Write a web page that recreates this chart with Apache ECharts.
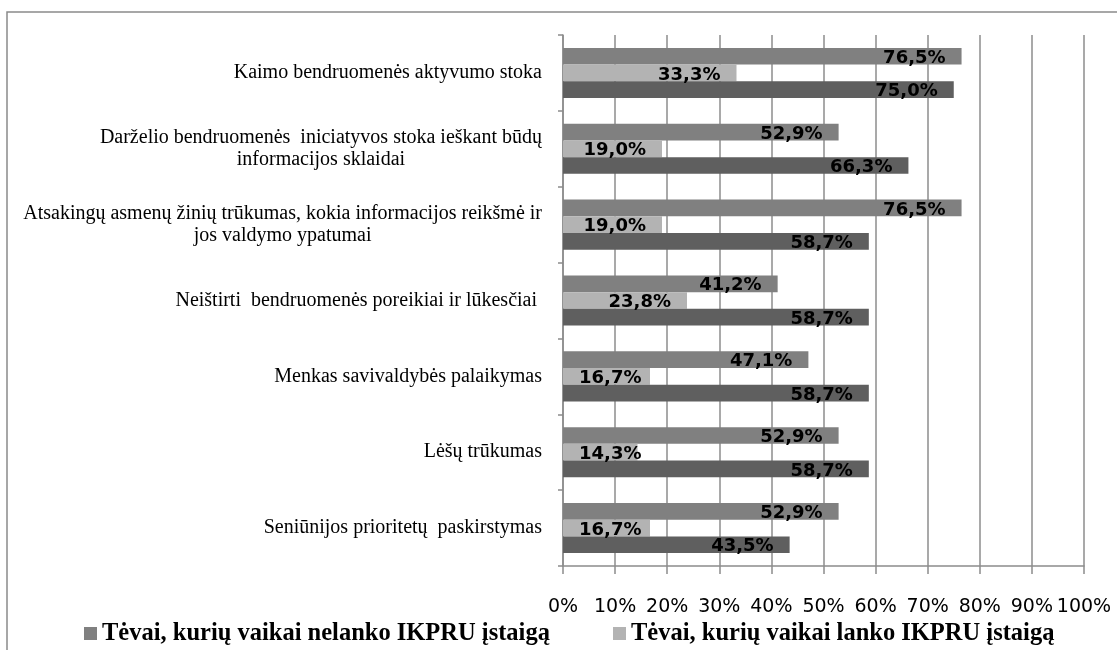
<!DOCTYPE html>
<html>
<head>
<meta charset="utf-8">
<script src="https://cdn.jsdelivr.net/npm/echarts@6/dist/echarts.min.js"></script>
<style>
  html, body { margin: 0; padding: 0; background: #fff; }
  #main { width: 1117px; height: 650px; }
</style>
</head>
<body>
<div id="main"></div>
<script>
  // kategorijos (iš viršaus į apačią)
  var categories = [
    'Kaimo bendruomenės aktyvumo stoka',
    'Darželio bendruomenės  iniciatyvos stoka ieškant būdų\ninformacijos sklaidai',
    'Atsakingų asmenų žinių trūkumas, kokia informacijos reikšmė ir\njos valdymo ypatumai',
    'Neištirti  bendruomenės poreikiai ir lūkesčiai ',
    'Menkas savivaldybės palaikymas',
    'Lėšų trūkumas',
    'Seniūnijos prioritetų  paskirstymas'
  ];
  var seriesNames = [
    'Tėvai, kurių vaikai nelanko IKPRU įstaigą',
    'Tėvai, kurių vaikai lanko IKPRU įstaigą',
    'Serija 3'
  ];
  var nelanko = [76.5, 52.9, 76.5, 41.2, 47.1, 52.9, 52.9];
  var lanko = [33.3, 19.0, 19.0, 23.8, 16.7, 14.3, 16.7];
  var trecia = [75.0, 66.3, 58.7, 58.7, 58.7, 58.7, 43.5];
  var xTicks = [0, 10, 20, 30, 40, 50, 60, 70, 80, 90, 100];

  var colors = ['#808080', '#b3b3b3', '#5f5f5f'];
  var SMALL = 18; // per trumpi stulpeliai - etiketė prie ašies

  function makeData(arr) {
    return arr.map(function (v) {
      if (v < SMALL) {
        return { value: v, label: { position: 'insideLeft', distance: 16 } };
      }
      return { value: v };
    });
  }

  function makeSeries(name, arr, color) {
    return {
      name: name,
      type: 'bar',
      barGap: 0,
      barCategoryGap: '34%',
      itemStyle: { color: color },
      label: {
        show: true,
        position: 'insideRight',
        distance: 16,
        offset: [0, 2],
        color: '#000',
        fontFamily: 'DejaVu Sans',
        fontWeight: 'bold',
        fontSize: 18,
        formatter: function (p) {
          return p.value.toFixed(1).replace('.', ',') + '%';
        }
      },
      data: makeData(arr)
    };
  }

  var chart = echarts.init(document.getElementById('main'));
  chart.setOption({
    animation: false,
    backgroundColor: '#fff',
    graphic: [{
      type: 'rect',
      z: -10,
      shape: { x: 7, y: 12, width: 1300, height: 800 },
      style: { fill: 'none', stroke: '#8a8a8a', lineWidth: 1.5 }
    }],
    grid: { left: 563, right: 33, top: 35, bottom: 84 },
    legend: [{
      left: 79,
      top: 616,
      icon: 'rect',
      itemWidth: 13,
      itemHeight: 13,
      itemGap: 5,
      textStyle: { fontFamily: 'Liberation Serif', fontWeight: 'bold', fontSize: 24.5, color: '#000' },
      data: [seriesNames[0]]
    }, {
      left: 608,
      top: 616,
      icon: 'rect',
      itemWidth: 13,
      itemHeight: 13,
      textStyle: { fontFamily: 'Liberation Serif', fontWeight: 'bold', fontSize: 24.5, color: '#000' },
      data: [seriesNames[1]]
    }],
    xAxis: {
      type: 'value',
      min: 0,
      max: 100,
      interval: 10,
      axisLine: { show: true, lineStyle: { color: '#8c8c8c', width: 1.5 } },
      axisTick: { show: true, length: 8, lineStyle: { color: '#8c8c8c', width: 1.5 } },
      splitLine: { show: true, lineStyle: { color: '#8c8c8c', width: 1.5 } },
      axisLabel: {
        margin: 32,
        color: '#000',
        fontFamily: 'DejaVu Sans',
        fontSize: 19,
        formatter: function (v) { return xTicks.indexOf(v) >= 0 ? v + '%' : ''; }
      }
    },
    yAxis: {
      type: 'category',
      inverse: true,
      data: categories,
      axisLine: { show: true, lineStyle: { color: '#8c8c8c', width: 1.5 } },
      axisTick: { show: true, length: 5, lineStyle: { color: '#8c8c8c', width: 1.5 } },
      axisLabel: {
        margin: 21,
        formatter: function (v) {
          return v.split('\n').map(function (s) { return '{c|' + s + '}'; }).join('\n');
        },
        rich: {
          c: {
            align: 'center',
            fontFamily: 'Liberation Serif',
            fontSize: 20,
            lineHeight: 22,
            color: '#000'
          }
        }
      }
    },
    series: [
      makeSeries(seriesNames[0], nelanko, colors[0]),
      makeSeries(seriesNames[1], lanko, colors[1]),
      makeSeries(seriesNames[2], trecia, colors[2])
    ]
  });
</script>
</body>
</html>
